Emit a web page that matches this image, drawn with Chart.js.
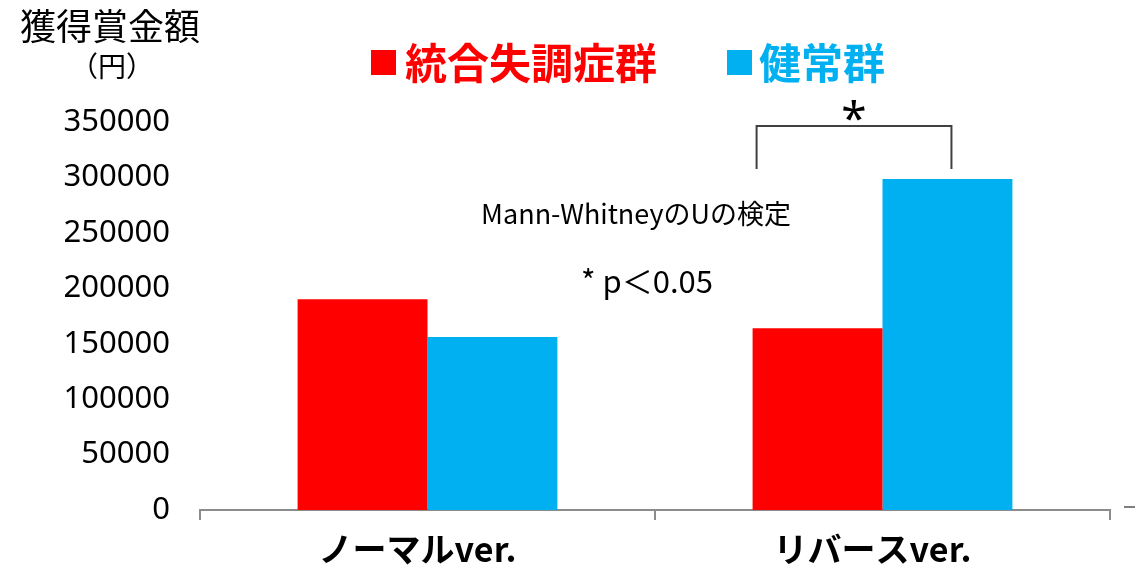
<!DOCTYPE html>
<html>
<head>
<meta charset="utf-8">
<script src="https://cdn.jsdelivr.net/npm/chart.js@4"></script>
<style>
html,body{margin:0;padding:0;background:#fff;}
#wrap{width:1145px;height:575px;position:relative;}
</style>
</head>
<body>
<div id="wrap"><canvas id="prizeChart" width="1145" height="575"></canvas></div>
<script>

// ================= DATA =================
const categories = ["ノーマルver.", "リバースver."];
const schizoValues = [190000, 164000];
const healthyValues = [156000, 298500];
const seriesNames = ["統合失調症群", "健常群"];
const yTicks = [0, 50000, 100000, 150000, 200000, 250000, 300000, 350000];

const RED = "#FF0000";
const BLUE = "#00B0F0";
const JP = "'Noto Sans CJK JP', 'Noto Sans', sans-serif";

// ================= EXTRA DRAWING =================
// axis title, legend, test note, bracket
const extras = {
id: "extras",
afterDraw(chart){

const ctx = chart.ctx;
ctx.save();

// y axis title
ctx.fillStyle = "#000";
ctx.textBaseline = "middle";
ctx.textAlign = "left";
ctx.font = "36px " + JP;
ctx.fillText("獲得賞金額", 20, 26);
ctx.textAlign = "center";
ctx.font = "28px " + JP;
ctx.fillText("（円）", 112, 66);

// legend
ctx.textAlign = "left";
ctx.font = "bold 42px " + JP;
ctx.fillStyle = RED;
ctx.fillRect(371, 50, 25, 25);
ctx.fillText(seriesNames[0], 405, 63);
ctx.fillStyle = BLUE;
ctx.fillRect(727, 50, 25, 25);
ctx.fillText(seriesNames[1], 759, 63);

// test note
ctx.fillStyle = "#000";
ctx.textAlign = "center";
ctx.font = "27px " + JP;
ctx.fillText("Mann-WhitneyのUの検定", 636, 214);
ctx.font = "31px " + JP;
ctx.fillText("* p＜0.05", 647, 281);

// significance bracket over the second category
const red = chart.getDatasetMeta(0).data[1];
const blue = chart.getDatasetMeta(1).data[1];
const left = red.x - red.width/2 + 4;
const right = blue.x + 4;
const top = blue.y - 53;
const bottom = blue.y - 10;

ctx.strokeStyle = "#404040";
ctx.lineWidth = 2;
ctx.beginPath();
ctx.moveTo(left, bottom);
ctx.lineTo(left, top);
ctx.lineTo(right, top);
ctx.lineTo(right, bottom);
ctx.stroke();

ctx.font = "46px 'Noto Sans', sans-serif";
ctx.textBaseline = "middle";
ctx.fillText("*", (left+right)/2, top - 4);

// small dash right of the axis
ctx.strokeStyle = "#7f7f7f";
ctx.lineWidth = 2;
ctx.beginPath();
ctx.moveTo(1124, 507);
ctx.lineTo(1135, 507);
ctx.stroke();

ctx.restore();

}
};

// ================= CHART =================
Chart.defaults.font.family = "'Noto Sans', 'Noto Sans CJK JP', sans-serif";
Chart.defaults.color = "#000";

new Chart(document.getElementById("prizeChart"),{

type:"bar",

data:{
labels:categories,
datasets:[
{label:seriesNames[0],data:schizoValues,backgroundColor:RED,borderWidth:0},
{label:seriesNames[1],data:healthyValues,backgroundColor:BLUE,borderWidth:0}
]
},

options:{
responsive:false,
animation:false,
layout:{padding:{top:122,right:35,left:0,bottom:0}},
categoryPercentage:0.571,
barPercentage:1.0,
plugins:{
legend:{display:false},
tooltip:{enabled:false}
},
scales:{
x:{
afterFit(scale){ scale.height = 65; },
grid:{
display:true,
drawOnChartArea:false,
drawTicks:true,
tickLength:10,
color:"#8c8c8c",
lineWidth:2
},
border:{display:true,color:"#8c8c8c",width:2},
ticks:{
font:{family:JP,size:34,weight:"bold"},
color:"#000",
padding:9,
labelOffset:-10
}
},
y:{
min:0,
max:350000,
afterFit(scale){ scale.width = 200; },
afterBuildTicks(scale){ scale.ticks = yTicks.map(v => ({value:v})); },
grid:{display:false,drawTicks:false,tickLength:0},
border:{display:false},
ticks:{
font:{size:31},
color:"#000",
padding:30,
callback:v => String(v)
}
}
}
},

plugins:[extras]

});

</script>
</body>
</html>
